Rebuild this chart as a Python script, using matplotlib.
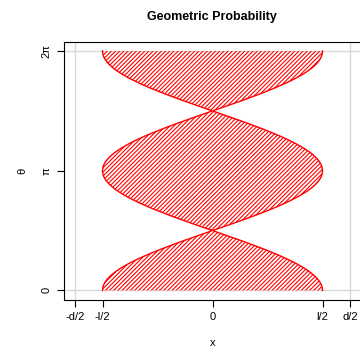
import numpy as np
import matplotlib.pyplot as plt

# needle length l and line spacing d (Buffon's needle)
l = 0.8
d = 1.0

theta = np.linspace(0, 2 * np.pi, 400)
half_width = (l / 2) * np.abs(np.cos(theta))

x_ticks = [-d / 2, -l / 2, 0, l / 2, d / 2]
x_labels = ["-d/2", "-l/2", "0", "l/2", "d/2"]
y_ticks = [0, np.pi, 2 * np.pi]
y_labels = ["0", "π", "2π"]

plt.rcParams['font.family'] = ['Liberation Sans', 'DejaVu Sans']
plt.rcParams['hatch.linewidth'] = 0.8
plt.rcParams['hatch.color'] = 'red'

fig = plt.figure(figsize=(3.6, 3.5), dpi=100)
W, H = 360, 350
ax = fig.add_axes([64 / W, 1 - 300 / H, (361 - 64) / W, (300 - 41.5) / H])

xr = d * 1.08 / 2
ax.set_xlim(-xr, xr)
ax.set_ylim(-0.04 * 2 * np.pi, 2 * np.pi * 1.04)

# light grid at the outer ticks
for xv in (-d / 2, d / 2):
    ax.axvline(xv, color='#d9d9d9', lw=1.0, zorder=0)
for yv in (0, 2 * np.pi):
    ax.axhline(yv, color='#d9d9d9', lw=1.0, zorder=0)

ax.fill_betweenx(theta, -half_width, half_width, facecolor='none',
                 edgecolor='red', hatch='////////', linewidth=0)
ax.plot(half_width, theta, color='red', lw=1.0)
ax.plot(-half_width, theta, color='red', lw=1.0)

ax.set_xticks(x_ticks)
ax.set_xticklabels(x_labels, fontsize=8)
ax.set_yticks(y_ticks)
ax.set_yticklabels(y_labels, fontsize=8, rotation=90, va='center')
ax.tick_params(length=5, width=0.8, pad=4)

for s in ax.spines.values():
    s.set_linewidth(0.8)
ax.spines['right'].set_visible(False)

ax.set_xlabel("x", fontsize=8, labelpad=11)
ax.set_ylabel("θ", fontsize=8, labelpad=10)
fig.text(212 / W, 1 - 17 / H, "Geometric Probability", fontsize=9,
         fontweight='bold', ha='center', va='center')

fig.savefig("out.png", dpi=100)
